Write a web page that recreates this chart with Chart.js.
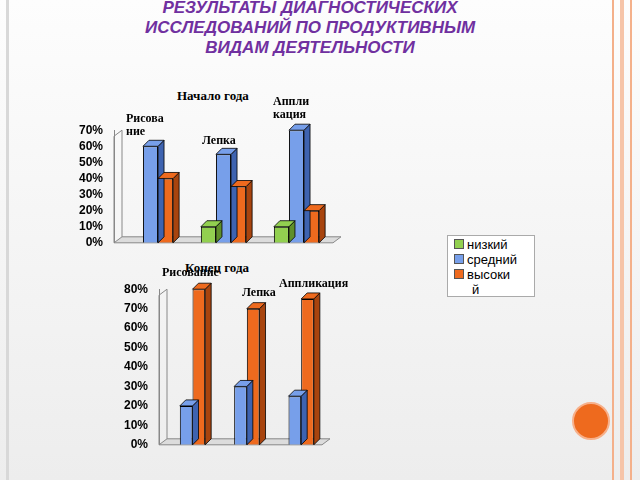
<!DOCTYPE html>
<html><head><meta charset="utf-8">
<script src="https://cdn.jsdelivr.net/npm/chart.js@4"></script>
<style>
body{margin:0;width:640px;height:480px;overflow:hidden;background:linear-gradient(#fdfdfd,#ededed);position:relative;font-family:"Liberation Sans",sans-serif}
.abs{position:absolute}
#title{left:40px;top:-2px;width:540px;text-align:center;color:#7030A0;font:italic bold 17px "Liberation Sans";line-height:20px}
.lbl{position:absolute;font:bold 12px "Liberation Serif";line-height:13px;color:#000}
#legend{left:447px;top:235px;width:88px;height:62px;background:#fff;border:1px solid #aaa;font:13px "Liberation Sans";line-height:15px;padding:1px 0 0 6px;box-sizing:border-box}
#legend span{display:inline-block;width:8px;height:8px;border:1px solid #555;margin-right:3px}
</style></head><body>
<div class="abs" style="left:6px;top:0;width:3px;height:480px;background:#d8d8d8"></div>
<div class="abs" style="left:612px;top:0;width:2px;height:480px;background:#f4b08a"></div>
<div class="abs" style="left:620px;top:0;width:4px;height:480px;background:#f6c4a8"></div>
<div class="abs" style="left:630px;top:0;width:2px;height:480px;background:#f4b08a"></div>
<div class="abs" style="left:572px;top:402px;width:34px;height:34px;border-radius:50%;background:#EE6A1E;border:2px solid #f7b08a"></div>
<div id="title" class="abs">РЕЗУЛЬТАТЫ ДИАГНОСТИЧЕСКИХ<br>ИССЛЕДОВАНИЙ ПО ПРОДУКТИВНЫМ<br>ВИДАМ ДЕЯТЕЛЬНОСТИ</div>
<div class="abs" style="left:60px;top:120px;width:283px;height:133px"><canvas id="c1"></canvas></div>
<div class="abs" style="left:100px;top:279px;width:232px;height:176px"><canvas id="c2"></canvas></div>
<div class="lbl" style="left:177px;top:89px;font-size:13px">Начало года</div>
<div class="lbl" style="left:126px;top:112px">Рисова<br>ние</div>
<div class="lbl" style="left:202px;top:134px">Лепка</div>
<div class="lbl" style="left:273px;top:95px">Аппли<br>кация</div>
<div class="lbl" style="left:185px;top:261px;font-size:13px">Конец года</div>
<div class="lbl" style="left:162px;top:266px">Рисование</div>
<div class="lbl" style="left:242px;top:286px">Лепка</div>
<div class="lbl" style="left:279px;top:277px">Аппликация</div>
<div id="legend" class="abs">
<div><span style="background:#92D050"></span>низкий</div>
<div><span style="background:#779FEA"></span>средний</div>
<div><span style="background:#EE6A1E"></span>высоки<br>&nbsp;&nbsp;&nbsp;&nbsp;&nbsp;й</div>
</div>
<script>
const categories=["Рисование","Лепка","Аппликация"];
const seriesNames=["низкий","средний","высокий"];
const startLow=[0,10,10];
const startMid=[60,55,70];
const startHigh=[40,35,20];
const endLow=[0,0,0];
const endMid=[20,30,25];
const endHigh=[80,70,75];
const colors=["#92D050","#779FEA","#EE6A1E"];
const sides=["#5f8f2a","#3e63b0","#a8440e"];
const depth={id:'depth',beforeDatasetsDraw(ch){const a=ch.chartArea,c=ch.ctx;c.save();
 c.strokeStyle='#888';c.lineWidth=1;c.fillStyle='#dcdcdc';
 c.beginPath();c.moveTo(a.left,a.bottom);c.lineTo(a.left+8,a.bottom-6);c.lineTo(a.right+8,a.bottom-6);c.lineTo(a.right,a.bottom);c.closePath();c.fill();c.stroke();
 c.beginPath();c.moveTo(a.left,a.bottom);c.lineTo(a.left,a.top+6);c.lineTo(a.left+8,a.top);c.lineTo(a.left+8,a.bottom-6);c.stroke();
 c.restore();},
 afterDatasetsDraw(ch){const c=ch.ctx;c.save();c.strokeStyle='#000';c.lineWidth=0.8;
 ch.data.datasets.forEach((ds,i)=>{ch.getDatasetMeta(i).data.forEach((b,j)=>{if(!ds.data[j])return;
  const w=b.width,x1=b.x-w/2,x2=b.x+w/2,t=b.y,bt=b.base,d=6;
  c.fillStyle=sides[i];c.beginPath();c.moveTo(x2,bt);c.lineTo(x2,t);c.lineTo(x2+d,t-d);c.lineTo(x2+d,bt-d);c.closePath();c.fill();c.stroke();
  c.fillStyle=colors[i];c.beginPath();c.moveTo(x1,t);c.lineTo(x1+d,t-d);c.lineTo(x2+d,t-d);c.lineTo(x2,t);c.closePath();c.fill();c.stroke();});});
 c.restore();}};
function mk(id,d,max,yw,pct){
 new Chart(document.getElementById(id),{type:'bar',
 data:{labels:categories,datasets:d.map((v,i)=>({label:seriesNames[i],data:v,backgroundColor:colors[i],borderColor:'#000',borderWidth:1,barPercentage:1,categoryPercentage:pct}))},
 options:{responsive:true,maintainAspectRatio:false,animation:false,layout:{padding:{top:8,bottom:7,right:10}},
 plugins:{legend:{display:false},tooltip:{enabled:false}},
 scales:{x:{display:false},y:{min:0,max:max,ticks:{stepSize:10,autoSkip:false,callback:v=>v+'%',color:'#000',font:{family:'Liberation Sans',weight:'bold',size:12}},grid:{display:false},border:{color:'#888'},afterFit(s){s.width=yw;}}}},
 plugins:[depth]});}
mk('c1',[startLow,startMid,startHigh],70,54,0.62);
mk('c2',[endLow,endMid,endHigh],80,59,0.7);
</script>
</body></html>
